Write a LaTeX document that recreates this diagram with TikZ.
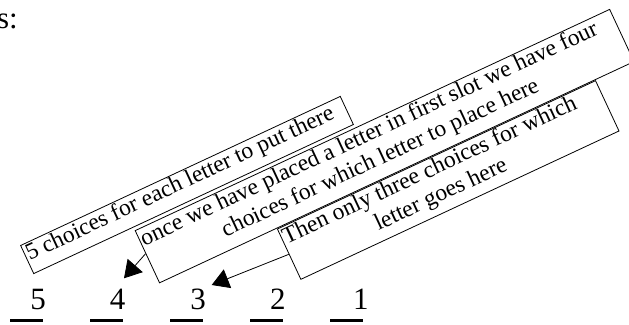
\documentclass[tikz,border=0pt]{standalone}
\usepackage{fontspec}
\setmainfont{Liberation Serif}
\usetikzlibrary{arrows.meta, calc}

\begin{document}
\begin{tikzpicture}[
    x=1pt, y=-1pt,
    frame/.style={draw, line width=0.8pt, rotate=25, inner sep=0pt},
    note/.style={rotate=25, anchor=north west, align=center, inner xsep=2pt, inner ysep=1.5pt, font=\fontsize{23.5}{26.5}\selectfont},
    digit/.style={anchor=base, inner sep=0pt, font=\fontsize{31}{36}\selectfont},
    slot/.style={line width=3pt},
    pointer/.style={line width=0.8pt, -{Triangle[length=17pt, width=20pt]}},
]
\useasboundingbox (0,0) rectangle (629,324);

\node[digit, anchor=base east] (lead) at (18,28) {s:};

\node[frame, minimum width=352.7pt, minimum height=31pt] (f1) at (187,185) {};
\node[frame, minimum width=523.5pt, minimum height=57.6pt] (f2) at (384.6,146.1) {};
\node[frame, minimum width=351pt, minimum height=55.5pt] (f3) at (448.2,180) {};

\node[note] (t1) at (f1.north west) {5 choices for each letter to put there};
\node[note] (t2) at (f2.north west) {once we have placed a letter in first slot we have four\\choices for which letter to place here};
\node[note] (t3) at (f3.north west) {Then only three choices for which\\letter goes here};

\foreach \n/\x/\c in {5/10/38, 4/90/117.5, 3/170/198, 2/250/277.8, 1/330/360.8} {
    \draw[slot] (\x,320) -- ++(33,0);
    \node[digit] (d\n) at (\c,309) {\n};
}

\coordinate (tip4) at (124,278.3);
\coordinate (tip3) at (211.7,285);
\draw[pointer] ($(f2.north west)!0.44!(f2.south west)$) -- (tip4);
\draw[pointer] (f3.west) -- (tip3);
\end{tikzpicture}
\end{document}
